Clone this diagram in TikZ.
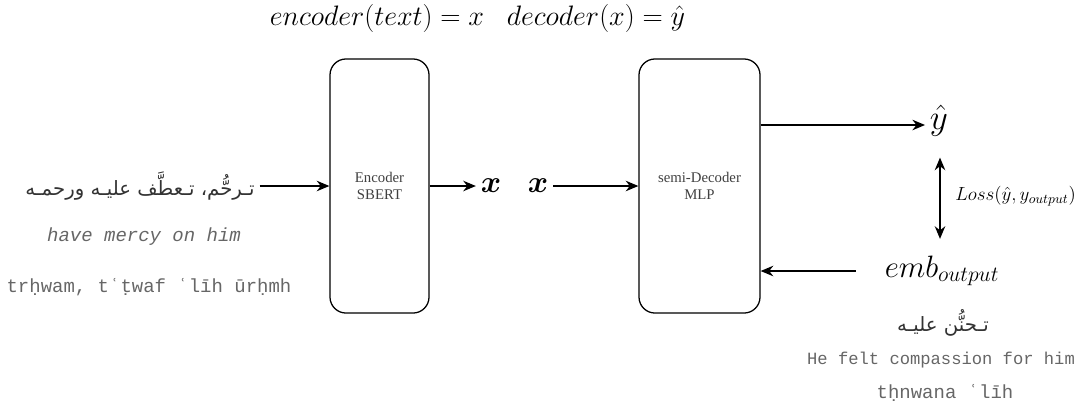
\documentclass[tikz,border=0pt]{standalone}
\usepackage{amsmath,amssymb}
\usepackage{fix-cm}
\usepackage{fontspec}
\setmainfont{Liberation Serif}
\setmonofont{Liberation Mono}
\newfontfamily\arabicfont[Script=Arabic]{DejaVu Sans}
\TeXXeTstate=1
\usetikzlibrary{arrows.meta}

\tikzset{
  block/.style={draw, line width=0.9pt, rounded corners=0.4cm, minimum width=2.475cm,
    minimum height=6.35cm, align=center, text=black!75,
    font=\fontsize{10.5}{12.5}\selectfont},
  gloss/.style={text=black!60, font=\ttfamily\fontsize{13.5}{16}\selectfont},
  arab/.style={text=black!80, font=\arabicfont\fontsize{14}{16}\selectfont},
  big/.style={font=\fontsize{20}{24}\selectfont},
  huge/.style={font=\fontsize{22}{26}\selectfont},
  flow/.style={-{Stealth[length=9pt,width=7.5pt]}, line width=0.9pt},
  both/.style={{Stealth[length=9pt,width=7.5pt]}-{Stealth[length=9pt,width=7.5pt]}, line width=0.9pt},
}

\begin{document}
\begin{tikzpicture}[x=0.025cm, y=-0.025cm]
  \useasboundingbox (0,0) rectangle (1078,403);

  % equations over the two blocks
  \node[big] (tenc) at (377,18) {$encoder(text) = x$};
  \node[big] (tdec) at (596,18) {$decoder(x) = \hat{y}$};

  % encoder and decoder
  \node[block] (enc) at (379.5,186) {Encoder\\SBERT};
  \node[block, minimum width=3.025cm] (dec) at (699.5,186) {semi-Decoder\\MLP};

  % input sentence
  \node[arab] (inAr) at (140,186) {\beginR تـرحُّم، تـعطَّف عليـه ورحمـه\endR};
  \node[gloss, font=\ttfamily\itshape\fontsize{13.5}{16}\selectfont] (inEn) at (144,237) {have mercy on him};
  \node[gloss] (inTr) at (149,287) {trḥwam, tʿṭwaf ʿlīh ūrḥmh};

  % vectors
  \node[huge] (x1) at (491,186) {$\boldsymbol{x}$};
  \node[huge] (x2) at (538,186) {$\boldsymbol{x}$};
  \node[font=\fontsize{25}{30}\selectfont] (yhat) at (939,121) {$\hat{y}$};
  \node[huge] (emb) at (942,271) {$emb_{output}$};

  % target sentence
  \node[arab] (outAr) at (943,323) {\beginR تـحنُّن عليـه\endR};
  \node[gloss, font=\ttfamily\fontsize{12.2}{14}\selectfont] (outEn) at (941,360) {He felt compassion for him};
  \node[gloss] (outTr) at (945,393) {tḥnwana ʿlīh};

  \draw[flow] (inAr) -- (enc);
  \draw[flow] (enc) -- (x1);
  \draw[flow] (x2) -- (dec);
  \draw[flow] (dec.east |- 0,125) -- (yhat.west |- 0,125);
  \draw[flow] ([xshift=-0.6cm]emb.west) -- (dec.east |- emb.west);
  \draw[both, shorten <=0.4cm, shorten >=0.3cm] (yhat.south -| 940,0) -- (emb.north -| 940,0)
    node[midway, right, xshift=0.25cm, font=\fontsize{13.5}{16}\selectfont] {$Loss(\hat{y}, y_{output})$};
\end{tikzpicture}
\end{document}
